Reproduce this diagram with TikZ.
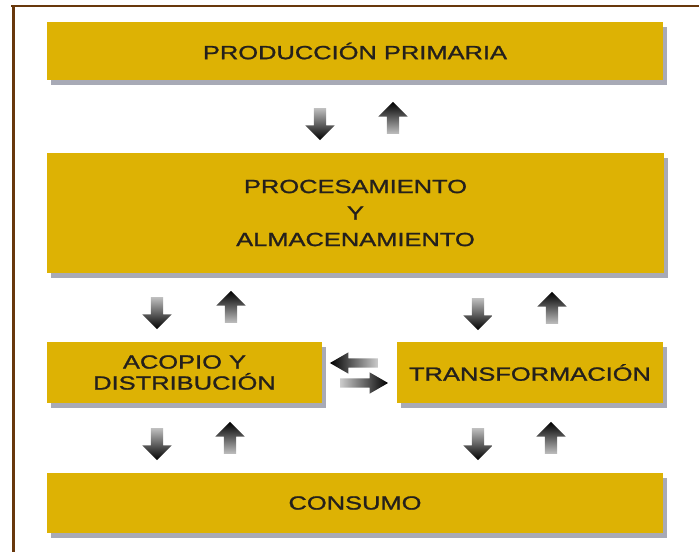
\documentclass[tikz,border=0pt]{standalone}
\usepackage{fontspec}
\setmainfont{Liberation Sans}[FakeStretch=1.34,FakeBold=1.3]
\usepackage{xcolor}
\usetikzlibrary{shapes.arrows}
\usetikzlibrary{shadows}
\usetikzlibrary{positioning}

\definecolor{boxgold}{RGB}{221,178,4}
\definecolor{shadowgray}{RGB}{168,170,182}
\definecolor{framebrown}{RGB}{104,56,12}
\definecolor{labelink}{RGB}{36,32,28}

\tikzset{
  stage/.style={rectangle, fill=boxgold, inner sep=0pt, text=labelink,
    align=center, font=\fontsize{19}{26.5}\selectfont,
    drop shadow={shadow xshift=4pt, shadow yshift=-4.5pt, fill=shadowgray, opacity=1}},
  flowv/.style={single arrow, inner sep=6pt, minimum height=32pt,
    single arrow head extend=8.5pt, single arrow tip angle=90},
  flowh/.style={single arrow, inner sep=4.5pt, minimum height=48pt,
    single arrow head extend=6pt, single arrow tip angle=60},
  godown/.style={flowv, shape border rotate=270,
    top color=black!25, middle color=black!95, bottom color=black},
  goup/.style={flowv, shape border rotate=90,
    top color=black, middle color=black!95, bottom color=black!25},
  goleft/.style={flowh, shape border rotate=180,
    left color=black, middle color=black!95, right color=black!20},
  goright/.style={flowh,
    left color=black!20, middle color=black!95, right color=black}
}

\begin{document}
\begin{tikzpicture}[x=1pt,y=-1pt]
  \useasboundingbox (0,0) rectangle (699,552);
  % frame
  \draw [framebrown, line width=2.5pt] (11,6) -- (699,6);
  \draw [framebrown, line width=3pt] (13.5,5) -- (13.5,552);

  % the stages
  \node[stage, minimum width=616pt, minimum height=58pt] (primaria) at (355,51) {PRODUCCIÓN PRIMARIA};
  \node[stage, minimum width=617pt, minimum height=120pt] (proceso) at (355.5,213)
    {PROCESAMIENTO\\Y\\ALMACENAMIENTO};
  \node[stage, minimum width=275pt, minimum height=61pt, font=\fontsize{19}{21}\selectfont] (acopio) at (184.5,372.5)
    {ACOPIO Y\\DISTRIBUCIÓN};
  \node[stage, minimum width=266pt, minimum height=61pt] (transf) at (530,372.5) {TRANSFORMACIÓN};
  \node[stage, minimum width=616pt, minimum height=60pt] (consumo) at (355,503) {CONSUMO};

  % flows between the stages
  \node[godown] (primaria-down) at (320,121) {};
  \node[goup]   (primaria-up)   at (393,121) {};

  \node[godown] (acopio-down) at (157,310) {};
  \node[goup]   (acopio-up)   at (231,310) {};
  \node[godown] (transf-down) at (478,311) {};
  \node[goup]   (transf-up)   at (552,311) {};

  \node[goleft]  (cambio-left)  at (358,363) {};
  \node[goright] (cambio-right) at (360,383) {};

  \node[godown] (consumo-down-a) at (157,441) {};
  \node[goup]   (consumo-up-a)   at (230,441) {};
  \node[godown] (consumo-down-t) at (478,441) {};
  \node[goup]   (consumo-up-t)   at (551,441) {};

\end{tikzpicture}
\end{document}
